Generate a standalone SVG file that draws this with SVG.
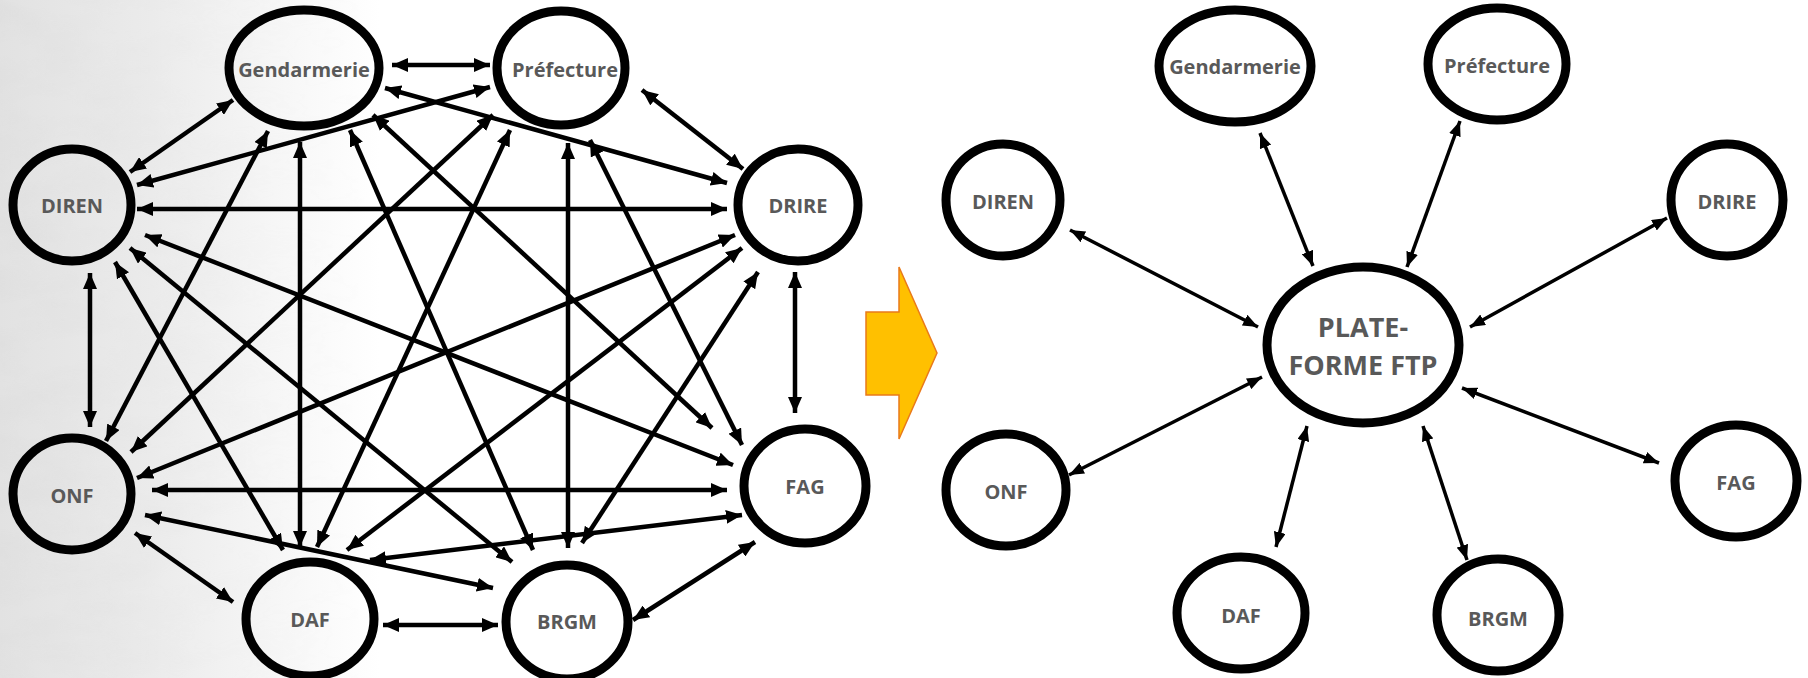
<svg xmlns="http://www.w3.org/2000/svg" width="1808" height="678" viewBox="0 0 1808 678">
  <defs>
    <linearGradient id="bgfade" x1="0" y1="0" x2="1" y2="0">
      <stop offset="0" stop-color="#e2e2e2"/>
      <stop offset="0.4" stop-color="#ebebeb"/>
      <stop offset="0.75" stop-color="#f7f7f7"/>
      <stop offset="1" stop-color="#ffffff"/>
    </linearGradient>
    <filter id="marble" x="0" y="0" width="1" height="1">
      <feTurbulence type="fractalNoise" baseFrequency="0.012 0.03" numOctaves="4" seed="7"/>
      <feColorMatrix type="matrix" values="0 0 0 0 0.55  0 0 0 0 0.55  0 0 0 0 0.55  0 0 0 -1.4 0.9"/>
    </filter>
    <linearGradient id="maskgrad" x1="0" y1="0" x2="1" y2="0">
      <stop offset="0" stop-color="#fff" stop-opacity="0.35"/>
      <stop offset="0.5" stop-color="#fff" stop-opacity="0.12"/>
      <stop offset="1" stop-color="#fff" stop-opacity="0"/>
    </linearGradient>
    <mask id="fademask">
      <rect x="0" y="0" width="380" height="678" fill="url(#maskgrad)"/>
    </mask>
    <marker id="ahL" markerUnits="userSpaceOnUse" markerWidth="16" markerHeight="14" refX="16" refY="7" orient="auto-start-reverse">
      <path d="M0,0 L16,7 L0,14 z" fill="#000"/>
    </marker>
    <marker id="ahR" markerUnits="userSpaceOnUse" markerWidth="15" markerHeight="12" refX="15" refY="6" orient="auto-start-reverse">
      <path d="M0,0 L15,6 L0,12 z" fill="#000"/>
    </marker>
    <style>
      .nodeL { fill: none; stroke: #000; stroke-width: 9; }
      .nodeR { fill: #fff; stroke: #000; stroke-width: 9; }
      .lbl { font-family: "Open Sans", "Liberation Sans", sans-serif; font-weight: bold; font-size: 20px; fill: #595959; text-anchor: middle; }
      .big { font-size: 27px; }
      .cL line { stroke: #000; stroke-width: 4.5; marker-start: url(#ahL); marker-end: url(#ahL); }
      .cR line { stroke: #000; stroke-width: 3.5; marker-start: url(#ahR); marker-end: url(#ahR); }
    </style>
  </defs>

  <!-- background -->
  <rect x="0" y="0" width="1808" height="678" fill="#ffffff"/>
  <rect x="0" y="0" width="380" height="678" fill="url(#bgfade)"/>
  <rect x="0" y="0" width="380" height="678" fill="#000" filter="url(#marble)" mask="url(#fademask)" opacity="0.5"/>

  <!-- transition arrow -->
  <polygon id="transition-arrow" points="866,312 899,312 899,267 937,353 899,439 899,395 866,395" fill="#FFC000" stroke="#E97A1A" stroke-width="1.5"/>

  <!-- left connectors -->
  <g id="connectors-left" class="cL">
    <line x1="392" y1="65" x2="490" y2="65"/>
    <line x1="233" y1="100" x2="130" y2="172"/>
    <line x1="385" y1="88" x2="727" y2="183"/>
    <line x1="268" y1="131" x2="106" y2="441"/>
    <line x1="300" y1="142" x2="300" y2="547"/>
    <line x1="350" y1="130" x2="533" y2="550"/>
    <line x1="373" y1="115" x2="712" y2="428"/>
    <line x1="490" y1="87" x2="137" y2="185"/>
    <line x1="642" y1="90" x2="743" y2="169"/>
    <line x1="493" y1="115" x2="131" y2="452"/>
    <line x1="510" y1="130" x2="317" y2="547"/>
    <line x1="568" y1="143" x2="568" y2="548"/>
    <line x1="590" y1="140" x2="742" y2="445"/>
    <line x1="137" y1="209" x2="727" y2="209"/>
    <line x1="90" y1="273" x2="90" y2="427"/>
    <line x1="145" y1="235" x2="733" y2="465"/>
    <line x1="130" y1="248" x2="512" y2="562"/>
    <line x1="115" y1="262" x2="283" y2="550"/>
    <line x1="795" y1="272" x2="795" y2="413"/>
    <line x1="735" y1="235" x2="137" y2="478"/>
    <line x1="742" y1="248" x2="347" y2="550"/>
    <line x1="758" y1="272" x2="582" y2="543"/>
    <line x1="152" y1="490" x2="727" y2="490"/>
    <line x1="145" y1="515" x2="493" y2="588"/>
    <line x1="135" y1="533" x2="233" y2="602"/>
    <line x1="742" y1="515" x2="370" y2="560"/>
    <line x1="755" y1="542" x2="633" y2="620"/>
    <line x1="383" y1="625" x2="498" y2="625"/>
  </g>

  <!-- left nodes -->
  <g id="L-gendarmerie"><ellipse class="nodeL" cx="304" cy="68" rx="75" ry="58"/><text class="lbl" x="304" y="77">Gendarmerie</text></g>
  <g id="L-prefecture"><ellipse class="nodeL" cx="561" cy="68" rx="64" ry="57"/><text class="lbl" x="565" y="77">Préfecture</text></g>
  <g id="L-diren"><ellipse class="nodeL" cx="72" cy="205" rx="59" ry="56"/><text class="lbl" x="72" y="213">DIREN</text></g>
  <g id="L-drire"><ellipse class="nodeL" cx="798" cy="205" rx="60" ry="56"/><text class="lbl" x="798" y="213">DRIRE</text></g>
  <g id="L-onf"><ellipse class="nodeL" cx="72" cy="494" rx="59" ry="56"/><text class="lbl" x="72" y="503">ONF</text></g>
  <g id="L-fag"><ellipse class="nodeL" cx="805" cy="486" rx="61" ry="57"/><text class="lbl" x="805" y="494">FAG</text></g>
  <g id="L-daf"><ellipse class="nodeL" cx="310" cy="619" rx="64" ry="57"/><text class="lbl" x="310" y="627">DAF</text></g>
  <g id="L-brgm"><ellipse class="nodeL" cx="567" cy="622" rx="61" ry="57"/><text class="lbl" x="567" y="629">BRGM</text></g>

  <!-- right connectors -->
  <g id="connectors-right" class="cR">
    <line x1="1070" y1="230" x2="1258" y2="327"/>
    <line x1="1260" y1="133" x2="1313" y2="266"/>
    <line x1="1460" y1="121" x2="1407" y2="267"/>
    <line x1="1667" y1="218" x2="1470" y2="327"/>
    <line x1="1262" y1="377" x2="1069" y2="475"/>
    <line x1="1307" y1="426" x2="1276" y2="547"/>
    <line x1="1423" y1="426" x2="1467" y2="560"/>
    <line x1="1462" y1="388" x2="1659" y2="463"/>
  </g>

  <!-- right nodes -->
  <g id="R-gendarmerie"><ellipse class="nodeR" cx="1235" cy="66" rx="76" ry="56"/><text class="lbl" x="1235" y="74">Gendarmerie</text></g>
  <g id="R-prefecture"><ellipse class="nodeR" cx="1497" cy="64" rx="69" ry="56"/><text class="lbl" x="1497" y="73">Préfecture</text></g>
  <g id="R-diren"><ellipse class="nodeR" cx="1003" cy="200" rx="57" ry="56"/><text class="lbl" x="1003" y="209">DIREN</text></g>
  <g id="R-drire"><ellipse class="nodeR" cx="1727" cy="200" rx="56" ry="56"/><text class="lbl" x="1727" y="209">DRIRE</text></g>
  <g id="R-plateforme"><ellipse class="nodeR" cx="1363" cy="345" rx="96" ry="78"/><text class="lbl big" x="1363" y="337">PLATE-</text><text class="lbl big" x="1363" y="375">FORME FTP</text></g>
  <g id="R-onf"><ellipse class="nodeR" cx="1006" cy="490" rx="60" ry="56"/><text class="lbl" x="1006" y="499">ONF</text></g>
  <g id="R-fag"><ellipse class="nodeR" cx="1736" cy="481" rx="61" ry="56"/><text class="lbl" x="1736" y="490">FAG</text></g>
  <g id="R-daf"><ellipse class="nodeR" cx="1241" cy="613" rx="64" ry="56"/><text class="lbl" x="1241" y="623">DAF</text></g>
  <g id="R-brgm"><ellipse class="nodeR" cx="1498" cy="615" rx="61" ry="56"/><text class="lbl" x="1498" y="626">BRGM</text></g>
</svg>
